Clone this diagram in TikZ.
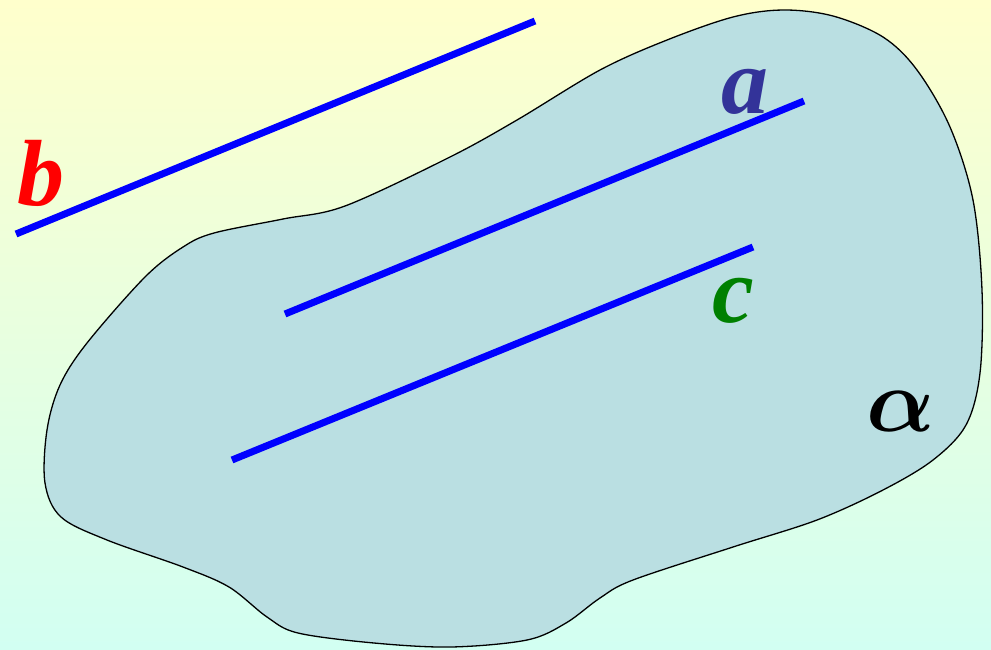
\documentclass[tikz,border=0pt]{standalone}
\usepackage{fontspec}
\usepackage{bm}
\setmainfont{Liberation Serif}
\begin{document}
\begin{tikzpicture}[x=1pt,y=-1pt,
  seg/.style={draw=blue,line width=7pt,line cap=butt},
  lbl/.style={inner sep=0pt,anchor=base,font=\fontsize{94}{94}\selectfont\bfseries\itshape}]
\definecolor{bgtop}{HTML}{FFFFCC}
\definecolor{bgbot}{HTML}{D2FFF2}
\definecolor{blobfill}{HTML}{BADFE2}
\definecolor{adark}{HTML}{333399}
\definecolor{cgreen}{HTML}{008000}
\useasboundingbox (0,0) rectangle (991,649);
\shade[top color=bgtop,bottom color=bgbot] (0,0) rectangle (991,649);
\draw[fill=blobfill,line width=1.3pt] plot[smooth cycle,tension=0.55] coordinates {
 (214,233) (283,219) (345,206) (450,157) (517,120) (600,70)
 (667,40) (733,17) (783,10) (833,16) (883,37) (917,70) (950,127) (973,200)
 (982,290) (980,373) (966,425) (933,460) (883,490) (817,520) (733,547)
 (633,580) (600,598) (566,623) (527,640) (451,647) (374,643) (298,633) (267,617)
 (229,587) (183,567) (107,540) (61,517) (45,483) (47,430) (60,385)
 (87,343) (145,277) (183,247)};
\coordinate (b1) at (16,234);
\coordinate (b2) at (535,21);
\coordinate (a1) at (285,314);
\coordinate (a2) at (804,101);
\coordinate (c1) at (232,460);
\coordinate (c2) at (753,247);
\draw[seg] (b1) -- (b2);
\draw[seg] (a1) -- (a2);
\draw[seg] (c1) -- (c2);
\node[lbl,text=red] (lb) at (41,205) {b};
\node[lbl,text=adark] (la) at (745,113) {a};
\node[lbl,text=cgreen] (lc) at (733,322) {c};
\node[lbl,text=black,font=\fontsize{10}{10}\selectfont] (lalpha) at (901,431) {\scalebox{9}{$\bm{\alpha}$}};
\end{tikzpicture}
\end{document}
